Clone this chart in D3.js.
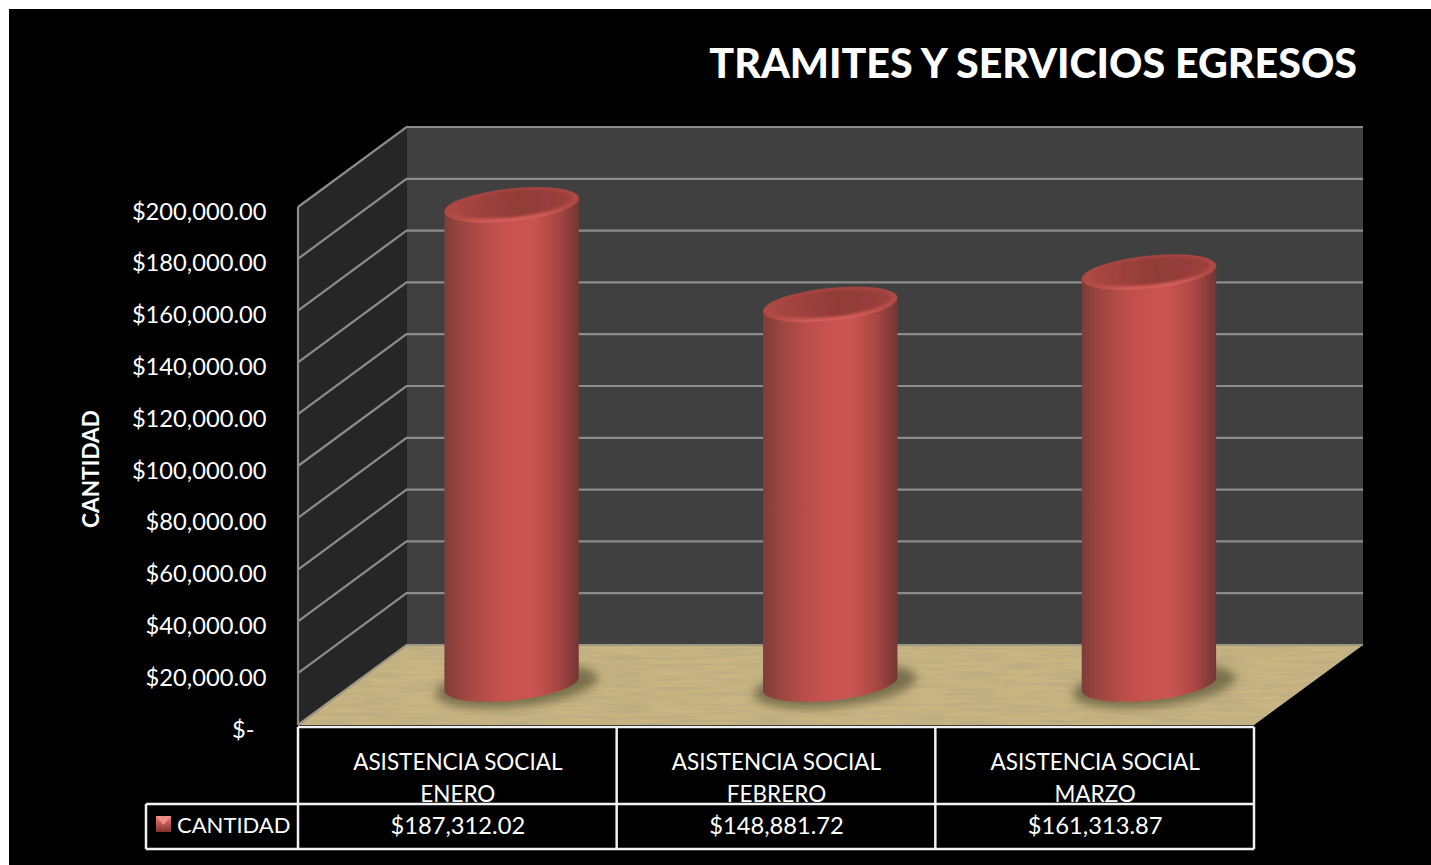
<!DOCTYPE html>
<html>
<head>
<meta charset="utf-8">
<script src="https://cdn.jsdelivr.net/npm/d3@7/dist/d3.min.js"></script>
<style>
  html, body { margin: 0; background: #fff; overflow: hidden; }
  text { font-family: Lato, "Open Sans", sans-serif; fill: #fff; }
</style>
</head>
<body>
<svg id="chart" width="1431" height="865"></svg>
<script>
// values
const categories = ['ENERO', 'FEBRERO', 'MARZO'];
const categoryPrefix = 'ASISTENCIA SOCIAL';
const values = [187312.02, 148881.72, 161313.87];
const seriesName = 'CANTIDAD';
const yTicks = [0, 20000, 40000, 60000, 80000, 100000, 120000, 140000, 160000, 180000, 200000];
const titleText = 'TRAMITES Y SERVICIOS EGRESOS';

const svg = d3.select('#chart');
const defs = svg.append('defs');

// front edge of the box, the back wall sits up and to the right of it
const plotLeft = 298, plotRight = 1254, plotBase = 725, plotTop = 207;
const depthX = 108.5, depthY = -80;

const x = d3.scaleBand().domain(categories).range([plotLeft, plotRight]);
const y = d3.scaleLinear().domain([0, 200000]).range([plotBase, plotTop]);
const money = d3.format('$,.2f');

// bars stand half way into the box
const barX = d => x(d) + x.bandwidth() / 2 + depthX / 2;
const barY = v => y(v) + depthY / 2 + 5;
const rx = x.bandwidth() * 0.212, ry = 16.5, tilt = -6;
const tiltRad = tilt * Math.PI / 180;
const dx = rx * Math.cos(tiltRad), dy = rx * Math.sin(tiltRad);

// ---- gradients and filters
const bodyGrad = defs.append('linearGradient').attr('id', 'body');
[[0, '#7d3d3a'], [0.1, '#96443f'], [0.28, '#b44c48'], [0.45, '#c8524f'], [0.66, '#ca5451'], [0.84, '#a94744'], [1, '#733634']]
  .forEach(s => bodyGrad.append('stop').attr('offset', s[0]).attr('stop-color', s[1]));

const rimGrad = defs.append('linearGradient').attr('id', 'rim').attr('x1', 0).attr('y1', 0).attr('x2', 0).attr('y2', 1);
[[0, '#a3443f'], [0.75, '#b54b47'], [0.97, '#d75f58'], [1, '#c9534e']]
  .forEach(s => rimGrad.append('stop').attr('offset', s[0]).attr('stop-color', s[1]));

const topGrad = defs.append('linearGradient').attr('id', 'cap');
[[0, '#aa4742'], [0.55, '#903c38'], [1, '#9c403c']]
  .forEach(s => topGrad.append('stop').attr('offset', s[0]).attr('stop-color', s[1]));

const iconGrad = defs.append('linearGradient').attr('id', 'icon').attr('x1', 0).attr('y1', 0).attr('x2', 0).attr('y2', 1);
[[0, '#e88a84'], [0.4, '#cb5a55'], [1, '#7d3331']]
  .forEach(s => iconGrad.append('stop').attr('offset', s[0]).attr('stop-color', s[1]));

const wood = defs.append('filter').attr('id', 'wood').attr('x', 0).attr('y', 0).attr('width', 1).attr('height', 1);
wood.append('feTurbulence').attr('type', 'fractalNoise').attr('baseFrequency', '0.02 0.3')
  .attr('numOctaves', 3).attr('seed', 4).attr('result', 'n');
wood.append('feColorMatrix').attr('in', 'n').attr('type', 'matrix')
  .attr('values', '0 0 0 0 0.42  0 0 0 0 0.36  0 0 0 0 0.22  1.1 0 0 0 -0.36').attr('result', 'c');
wood.append('feComposite').attr('in', 'c').attr('in2', 'SourceAlpha').attr('operator', 'in').attr('result', 'g');
wood.append('feMerge').selectAll('feMergeNode').data(['SourceGraphic', 'g']).join('feMergeNode').attr('in', d => d);

defs.append('filter').attr('id', 'soft').attr('x', '-30%').attr('y', '-60%').attr('width', '160%').attr('height', '220%')
  .append('feGaussianBlur').attr('stdDeviation', 5);
defs.append('filter').attr('id', 'soft1').attr('x', '-10%').attr('y', '-20%').attr('width', '120%').attr('height', '140%')
  .append('feGaussianBlur').attr('stdDeviation', 1.2);

// ---- background, black starts a few pixels in
svg.append('rect').attr('x', 9).attr('y', 9).attr('width', 1422).attr('height', 856).attr('fill', '#000');

// ---- walls and floor
const line = d3.line();
const backLeft = plotLeft + depthX, backRight = plotRight + depthX + 0.5;
svg.append('path').attr('fill', '#404040')
  .attr('d', line([[backLeft, y(200000) + depthY], [backRight, y(200000) + depthY], [backRight, plotBase + depthY], [backLeft, plotBase + depthY]]) + 'Z');
svg.append('path').attr('fill', '#262626')
  .attr('d', line([[plotLeft, plotTop], [backLeft, plotTop + depthY], [backLeft, plotBase + depthY], [plotLeft, plotBase]]) + 'Z');
svg.append('path').attr('fill', '#c9b582').attr('filter', 'url(#wood)')
  .attr('d', line([[plotLeft, plotBase], [backLeft, plotBase + depthY], [backRight, plotBase + depthY], [plotRight, plotBase]]) + 'Z');

// ---- gridlines
const grid = svg.append('g').attr('fill', 'none').attr('stroke', '#8c8c8c').attr('stroke-width', 2.2);
grid.selectAll('path').data(yTicks).join('path')
  .attr('stroke', d => d === 0 ? '#9c9684' : '#8c8c8c')
  .attr('d', d => line([[plotLeft, y(d)], [backLeft, y(d) + depthY], [backRight, y(d) + depthY]]));
grid.append('path').attr('d', line([[plotLeft, plotTop], [plotLeft, plotBase]]));

// ---- cylinders
const bars = svg.append('g').selectAll('g').data(categories).join('g');

bars.append('ellipse')
  .attr('cx', d => barX(d) + 5).attr('cy', barY(0) - 4)
  .attr('rx', rx + 14).attr('ry', ry + 4)
  .attr('transform', d => `rotate(${tilt} ${barX(d) + 5} ${barY(0) - 4})`)
  .attr('fill', '#5a5436').attr('opacity', 0.7).attr('filter', 'url(#soft)');

bars.append('path').attr('fill', 'url(#body)')
  .attr('d', (d, i) => {
    const cx = barX(d), b = barY(0) - 6, t = barY(values[i]);
    return `M${cx - dx},${t - dy}L${cx - dx},${b - dy}` +
      `A${rx},${ry} ${tilt} 0 0 ${cx + dx},${b + dy}L${cx + dx},${t + dy}Z`;
  });

bars.append('ellipse')
  .attr('cx', d => barX(d)).attr('cy', (d, i) => barY(values[i]))
  .attr('rx', rx).attr('ry', ry)
  .attr('transform', (d, i) => `rotate(${tilt} ${barX(d)} ${barY(values[i])})`)
  .attr('fill', 'url(#rim)');

bars.append('ellipse')
  .attr('cx', d => barX(d) + 1).attr('cy', (d, i) => barY(values[i]) - 1)
  .attr('rx', rx - 8).attr('ry', ry - 3.5)
  .attr('transform', (d, i) => `rotate(${tilt} ${barX(d) + 1} ${barY(values[i]) - 1})`)
  .attr('fill', 'url(#cap)').attr('filter', 'url(#soft1)');

// ---- y axis labels
const yAxis = svg.append('g').attr('transform', 'translate(266.5,0)')
  .call(d3.axisLeft(y).tickValues(yTicks).tickSize(0).tickPadding(0)
    .tickFormat(d => d === 0 ? '$-' : money(d)));
yAxis.select('.domain').remove();
yAxis.selectAll('text')
  .attr('font-size', 23.7).attr('dy', '0.38em')
  .attr('transform', 'translate(0,3)')
  .attr('x', d => d === 0 ? -12 : 0);
yAxis.attr('font-family', null).attr('font-size', null);

svg.append('text').attr('transform', 'translate(99,469) rotate(-90)')
  .attr('text-anchor', 'middle').attr('font-size', 22.6).attr('font-weight', 700)
  .text(seriesName);

// ---- title
svg.append('text').attr('x', 1357).attr('y', 78).attr('text-anchor', 'end')
  .attr('font-size', 41.2).attr('font-weight', 900).text(titleText);

// ---- data table
const rowTop = 727, rowMid = 804, rowBot = 849, legendLeft = 146;
const table = svg.append('g').attr('fill', 'none').attr('stroke', '#f2f2f2').attr('stroke-width', 2.5);
table.append('path').attr('d', line([[plotLeft, rowTop], [plotRight, rowTop]]));
table.append('path').attr('d', line([[legendLeft, rowMid], [plotRight, rowMid]]));
table.append('path').attr('d', line([[legendLeft, rowBot], [plotRight, rowBot]]));
table.append('path').attr('d', line([[legendLeft, rowMid], [legendLeft, rowBot]]));
table.selectAll('path.col').data(categories.concat('end')).join('path').attr('class', 'col')
  .attr('d', d => {
    const colX = d === 'end' ? plotRight : x(d);
    return line([[colX, rowTop], [colX, rowBot]]);
  });

const cells = svg.append('g').attr('text-anchor', 'middle').attr('font-size', 22.5);
const cellX = d => x(d) + x.bandwidth() / 2 + 0.5;
cells.selectAll('text.cat').data(categories).join('text').attr('class', 'cat')
  .attr('x', cellX).attr('y', 770).text(categoryPrefix);
// second line runs into the rule under it, as in the original
const clip = defs.append('clipPath').attr('id', 'row1');
clip.append('rect').attr('x', plotLeft).attr('y', rowTop).attr('width', plotRight - plotLeft).attr('height', rowMid - rowTop - 1);
cells.append('g').attr('clip-path', 'url(#row1)').selectAll('text').data(categories).join('text')
  .attr('x', cellX).attr('y', 802).text(d => d);
cells.selectAll('text.val').data(values).join('text').attr('class', 'val')
  .attr('font-size', 23.7)
  .attr('x', (d, i) => cellX(categories[i])).attr('y', 834).text(d => money(d));

// legend cell
svg.append('rect').attr('x', 156).attr('y', 816).attr('width', 15).attr('height', 16).attr('fill', 'url(#icon)');
svg.append('path').attr('fill', '#e98f88')
  .attr('d', line([[156, 816], [171, 816], [163.5, 825]]) + 'Z');
svg.append('text').attr('x', 177).attr('y', 833).attr('font-size', 22).text(seriesName);
</script>
</body>
</html>
